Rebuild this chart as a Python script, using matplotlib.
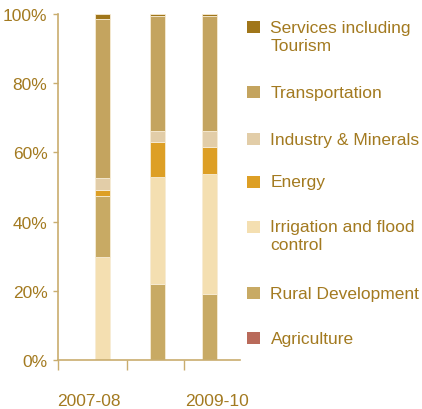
import matplotlib.pyplot as plt
from matplotlib.patches import Rectangle

plt.rcParams['font.family'] = ['Liberation Sans', 'DejaVu Sans']

# sectors, bottom to top of the stack
sectors = ['Agriculture', 'Rural Development', 'Irrigation and flood\ncontrol',
           'Energy', 'Industry & Minerals', 'Transportation',
           'Services including\nTourism']
colors = ['#b96a5a', '#c8aa64', '#f4dfb1', '#dd9f25', '#e2cda8', '#c4a45f', '#a0761a']

years = ['2007-08', '2008-09', '2009-10']
shown_years = ['2007-08', '2009-10']

# share of spending per sector (%), one list per year
shares = {
    '2007-08': [0.0, 17.5, 29.9, 1.7, 3.5, 46.0, 1.4],
    '2008-09': [0.0, 21.9, 30.9, 10.1, 3.2, 33.3, 0.6],
    '2009-10': [0.0, 19.0, 34.9, 7.8, 4.4, 33.3, 0.6],
}
# 2007-08 has irrigation stacked under rural development
stack_order = {
    '2007-08': [0, 2, 1, 3, 4, 5, 6],
    '2008-09': [0, 1, 2, 3, 4, 5, 6],
    '2009-10': [0, 1, 2, 3, 4, 5, 6],
}

txt = '#a37a20'
axc = '#c9ad6e'

fig = plt.figure(figsize=(4.22, 4.10), dpi=100)
ax = fig.add_axes([58 / 422, 1 - 361 / 410, (240 - 58) / 422, (361 - 15) / 410])

xpos = {'2007-08': 0.0, '2008-09': 1.03, '2009-10': 2.0}
for y in years:
    bottom = 0.0
    for i in stack_order[y]:
        v = shares[y][i]
        if v > 0:
            ax.bar(xpos[y], v, width=0.28, bottom=bottom, color=colors[i],
                   edgecolor='#f7ecd5', linewidth=0.6)
        bottom += v

ax.set_xlim(-0.832, 2.57)
ax.set_ylim(0, 100)
ax.set_yticks([0, 20, 40, 60, 80, 100])
ax.set_yticklabels(['0%', '20%', '40%', '60%', '80%', '100%'])

# year labels sit off the bar centres, with separators between
ax.set_xticks([-0.25, 2.14])
ax.set_xticklabels(shown_years)
ax.set_xticks([-0.832, 0.456, 1.523], minor=True)
ax.tick_params(axis='x', which='major', length=0, pad=24, labelsize=12.5, labelcolor=txt)
ax.tick_params(axis='x', which='minor', length=7.5, width=1, color=axc, direction='out')
ax.tick_params(axis='y', length=3.6, width=1, color=axc, pad=4, labelsize=12.5,
               labelcolor=txt)

for s in ['top', 'right']:
    ax.spines[s].set_visible(False)
for s in ['left', 'bottom']:
    ax.spines[s].set_color(axc)
    ax.spines[s].set_linewidth(1.2)
ax.spines['left'].set_bounds(0, 100)

# legend on the right, top entry first
leg_y = [28.3, 93.3, 139.6, 182.5, 227.5, 294, 339]
for k, i in enumerate(range(len(sectors) - 1, -1, -1)):
    yc = leg_y[k]
    fig.add_artist(Rectangle((247 / 422, 1 - (yc + 6) / 410), 13 / 422, 12 / 410,
                             transform=fig.transFigure, color=colors[i], lw=0))
    fig.text(270.5 / 422, 1 - (yc - 7) / 410, sectors[i], fontsize=12.5, color=txt,
             ha='left', va='top', linespacing=1.2)

fig.savefig('out.png', dpi=100)
